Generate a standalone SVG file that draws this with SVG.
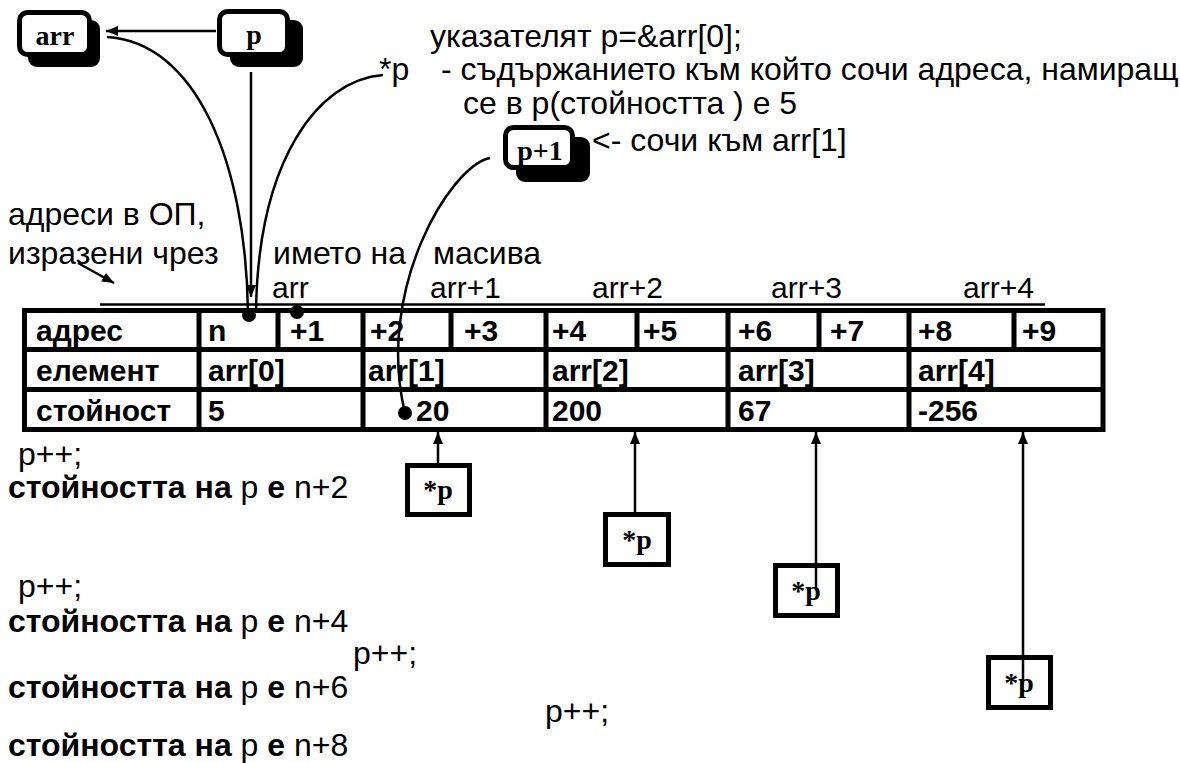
<svg xmlns="http://www.w3.org/2000/svg" width="1180" height="763" viewBox="0 0 1180 763">
  <style>
    .t { font-family: "Liberation Sans", Arial, sans-serif; font-size: 32px; fill: #000; }
    .lbl { font-size: 30px; }
    .b { font-weight: bold; }
    .cell { font-family: "Liberation Sans", Arial, sans-serif; font-size: 30px; font-weight: bold; fill: #000; }
    .nm { font-family: "Liberation Serif", "Times New Roman", serif; font-size: 28px; font-weight: bold; fill: #000; text-anchor: middle; }
    .grid { stroke: #000; stroke-width: 5; fill: none; }
    .face { fill: #fff; stroke: #000; stroke-width: 5; }
    .shade { fill: #000; }
    .conn { stroke: #000; stroke-width: 2.5; fill: none; }
    .arw { marker-end: url(#head); }
  </style>
  <defs>
    <marker id="head" viewBox="0 0 12 10" refX="12" refY="5" markerWidth="12" markerHeight="10" markerUnits="userSpaceOnUse" orient="auto">
      <path d="M0,0 L12,5 L0,10 z" fill="#000"/>
    </marker>
  </defs>

  <rect width="1180" height="763" fill="#fff"/>

  <!-- pointer / array name boxes -->
  <g id="node-arr">
    <rect class="shade" x="28" y="20" width="72" height="47" rx="9"/>
    <rect class="face" x="19.5" y="12.5" width="70" height="42" rx="8"/>
    <text class="nm" x="55" y="45">arr</text>
  </g>
  <g id="node-p">
    <rect class="shade" x="230" y="20" width="73" height="47" rx="9"/>
    <rect class="face" x="219.5" y="11.5" width="68" height="43" rx="8"/>
    <text class="nm" x="254" y="44">p</text>
  </g>
  <g id="node-p1">
    <rect class="shade" x="516" y="137" width="74" height="45" rx="9"/>
    <rect class="face" x="505.5" y="127.5" width="67" height="40" rx="8"/>
    <text class="nm" x="540" y="160">p+1</text>
  </g>

  <!-- explanations at the top -->
  <g id="notes-top">
    <text class="t" x="430" y="47">указателят p=&amp;arr[0];</text>
    <text class="t" x="379" y="80">*p</text>
    <text class="t" x="441" y="80">- съдържанието към който сочи адреса, намиращ</text>
    <text class="t" x="463" y="114">се в p(стойността ) е 5</text>
    <text class="t" x="592" y="151">&lt;- сочи към arr[1]</text>
  </g>

  <!-- address labels above the table -->
  <g id="notes-address">
    <text class="t" x="8" y="225">адреси в ОП,</text>
    <text class="t" x="8" y="264">изразени чрез</text>
    <text class="t" x="273" y="264">името на</text>
    <text class="t" x="433" y="264">масива</text>
    <text class="t lbl" x="272" y="298">arr</text>
    <text class="t lbl" x="430" y="298">arr+1</text>
    <text class="t lbl" x="592" y="298">arr+2</text>
    <text class="t lbl" x="771" y="298">arr+3</text>
    <text class="t lbl" x="963" y="298">arr+4</text>
    <line x1="100" y1="304.5" x2="1045" y2="304.5" stroke="#000" stroke-width="2.5"/>
  </g>

  <!-- memory table -->
  <g id="table">
    <rect class="grid" x="24.5" y="310.5" width="1078.5" height="119"/>
    <line class="grid" x1="24.5" y1="349.5" x2="1103" y2="349.5"/>
    <line class="grid" x1="24.5" y1="389.5" x2="1103" y2="389.5"/>
    <path class="grid" d="M199,310.5V429.5 M363,310.5V429.5 M546,310.5V429.5 M728,310.5V429.5 M909,310.5V429.5"/>
    <path class="grid" d="M278,310.5V349.5 M451,310.5V349.5 M637,310.5V349.5 M819,310.5V349.5 M1014,310.5V349.5"/>

    <text class="cell" x="36" y="341">адрес</text>
    <text class="cell" x="208" y="341">n</text>
    <text class="cell" x="290" y="341">+1</text>
    <text class="cell" x="370" y="341">+2</text>
    <text class="cell" x="464" y="341">+3</text>
    <text class="cell" x="552" y="341">+4</text>
    <text class="cell" x="643" y="341">+5</text>
    <text class="cell" x="738" y="341">+6</text>
    <text class="cell" x="830" y="341">+7</text>
    <text class="cell" x="918" y="341">+8</text>
    <text class="cell" x="1022" y="341">+9</text>

    <text class="cell" x="36" y="381">елемент</text>
    <text class="cell" x="208" y="381">arr[0]</text>
    <text class="cell" x="368" y="381">arr[1]</text>
    <text class="cell" x="552" y="381">arr[2]</text>
    <text class="cell" x="738" y="381">arr[3]</text>
    <text class="cell" x="918" y="381">arr[4]</text>

    <text class="cell" x="36" y="421">стойност</text>
    <text class="cell" x="208" y="421">5</text>
    <text class="cell" x="416" y="421">20</text>
    <text class="cell" x="552" y="421">200</text>
    <text class="cell" x="738" y="421">67</text>
    <text class="cell" x="918" y="421">-256</text>
  </g>

  <!-- dereference boxes under the table -->
  <g id="node-deref1">
    <rect class="face" x="407.5" y="465.5" width="62" height="49"/>
    <text class="nm" x="438" y="499">*p</text>
  </g>
  <g id="node-deref2">
    <rect class="face" x="605.5" y="514.5" width="63" height="50"/>
    <text class="nm" x="637" y="549">*p</text>
  </g>
  <g id="node-deref3">
    <rect class="face" x="775.5" y="565.5" width="62" height="50"/>
    <text class="nm" x="806" y="600">*p</text>
  </g>
  <g id="node-deref4">
    <rect class="face" x="988.5" y="657.5" width="62" height="50"/>
    <text class="nm" x="1019" y="692">*p</text>
  </g>

  <!-- pointer increments -->
  <g id="notes-steps">
    <text class="t" x="18" y="465">p++;</text>
    <text class="t" x="8" y="498"><tspan class="b">стойността на</tspan> p <tspan class="b">е</tspan> n+2</text>
    <text class="t" x="18" y="597">p++;</text>
    <text class="t" x="8" y="632"><tspan class="b">стойността на</tspan> p <tspan class="b">е</tspan> n+4</text>
    <text class="t" x="353" y="664">p++;</text>
    <text class="t" x="8" y="698"><tspan class="b">стойността на</tspan> p <tspan class="b">е</tspan> n+6</text>
    <text class="t" x="545" y="722">p++;</text>
    <text class="t" x="8" y="756"><tspan class="b">стойността на</tspan> p <tspan class="b">е</tspan> n+8</text>
  </g>

  <!-- connectors -->
  <g id="connectors">
    <line class="conn arw" x1="216" y1="31" x2="106" y2="31"/>
    <path class="conn" d="M107,37 C195,42 246,160 248,313"/>
    <line class="conn arw" x1="251" y1="72" x2="251" y2="297"/>
    <path class="conn" d="M383,75 C318,80 258,160 256,312"/>
    <path class="conn" d="M490,158 C450,166 375,290 405,413"/>
    <line class="conn arw" x1="78" y1="263" x2="114" y2="283"/>
    <line class="conn arw" x1="438" y1="465" x2="438" y2="432"/>
    <line class="conn arw" x1="635" y1="514" x2="635" y2="432"/>
    <line class="conn arw" x1="816" y1="590" x2="816" y2="432"/>
    <line class="conn arw" x1="1023" y1="682" x2="1023" y2="432"/>
    <circle cx="249" cy="315" r="7"/>
    <circle cx="297" cy="312" r="7"/>
    <circle cx="405" cy="413" r="7"/>
  </g>
</svg>
